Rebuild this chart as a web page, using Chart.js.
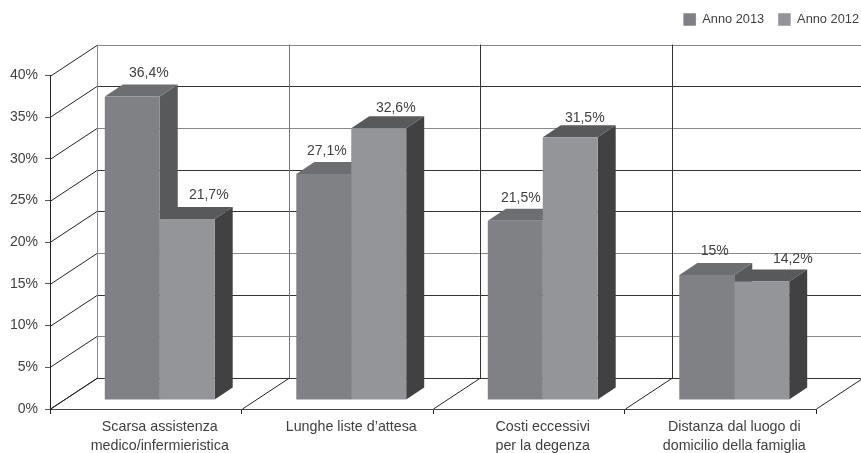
<!DOCTYPE html>
<html>
<head>
<meta charset="utf-8">
<style>
  html, body { margin: 0; padding: 0; background: #fff; }
  #wrap { width: 861px; height: 453px; }
</style>
<script src="https://cdn.jsdelivr.net/npm/chart.js@4"></script>
</head>
<body>
<div id="wrap"><canvas id="c"></canvas></div>
<script>
const categories = [
  ['Scarsa assistenza', 'medico/infermieristica'],
  'Lunghe liste d\u2019attesa',
  ['Costi eccessivi', 'per la degenza'],
  ['Distanza dal luogo di', 'domicilio della famiglia']
];
const anno2013 = [36.4, 27.1, 21.5, 15];
const anno2012 = [21.7, 32.6, 31.5, 14.2];

// Box shading, one entry per series
const frontColors = ['#808184', '#939598'];
const topColors = ['#6d6e71', '#58595b'];
const sideColors = ['#58595b', '#414042'];

// Hand placement of the value labels relative to each bar's front top centre
const labelShift = [
  [[16.5, -23], [3, -23], [5.5, -23], [8, -24]],
  [[21.5, -24], [17, -20], [14.5, -19], [31, -22]]
];

// Back wall lines alternate between two printed weights, from 0% upwards
const gridShades = ['#333', '#888', '#333', '#888', '#333', '#333', '#888', '#333', '#888'];
const wallShades = ['#888', '#777', '#333', '#333', '#888'];

const FONT = '"Liberation Sans", Arial, sans-serif';
const TEXT = '#3f3f41';
const WALL = { dx: 47, dy: -31 };   // depth of the box the chart stands in
const BAR_SHIFT = { dx: 14, dy: -9 }; // bars stand on the floor, behind the front edge
const BAR_DEPTH = { dx: 18, dy: -12 };

function line(ctx, x1, y1, x2, y2, color, width) {
  ctx.strokeStyle = color;
  ctx.lineWidth = width;
  ctx.beginPath();
  ctx.moveTo(x1, y1);
  ctx.lineTo(x2, y2);
  ctx.stroke();
}

function poly(ctx, pts, color) {
  ctx.fillStyle = color;
  ctx.beginPath();
  pts.forEach((p, i) => i ? ctx.lineTo(p[0], p[1]) : ctx.moveTo(p[0], p[1]));
  ctx.closePath();
  ctx.fill();
}

const box3d = {
  id: 'box3d',
  beforeInit(chart) {
    // Keep a fixed band above the plot for the legend
    const fit = chart.legend.fit;
    chart.legend.fit = function () {
      fit.call(this);
      this.height = 75.5;
    };
  },
  afterLayout(chart) {
    // The legend sits at the far right, past the plot's front edge
    chart.legend.right = chart.width + 12;
    chart.legend.top = -1;
  },
  beforeDatasetsDraw(chart) {
    const { ctx, scales: { x, y }, chartArea: area } = chart;
    ctx.save();

    // Back wall and left wall, following the value ticks
    y.ticks.forEach((t, i) => {
      const py = Math.round(y.getPixelForValue(t.value)) + 0.5;
      const c = gridShades[i % gridShades.length];
      line(ctx, area.left + WALL.dx, py + WALL.dy, area.right + WALL.dx, py + WALL.dy, c, 1);
      line(ctx, area.left, py, area.left + WALL.dx, py + WALL.dy, '#222', 1);
    });

    // Vertical wall lines and floor diagonals at the category boundaries
    const half = (x.getPixelForValue(1) - x.getPixelForValue(0)) / 2;
    const boundaries = categories.map((_, i) => x.getPixelForValue(i) - half);
    boundaries.push(area.right);
    boundaries.forEach((bx, i) => {
      const px = Math.round(bx) + 0.5;
      line(ctx, px + WALL.dx, area.top + WALL.dy, px + WALL.dx, area.bottom + WALL.dy, wallShades[i], 1);
      line(ctx, px, area.bottom, px + WALL.dx, area.bottom + WALL.dy, '#222', 1);
    });

    // Top and side faces go down first, the library then paints the fronts over them
    [0, 1].forEach((d) => {
      chart.getDatasetMeta(d).data.forEach((bar) => {
        const l = bar.x - bar.width / 2 + BAR_SHIFT.dx;
        const r = bar.x + bar.width / 2 + BAR_SHIFT.dx;
        const t = bar.y + BAR_SHIFT.dy;
        const b = bar.base + BAR_SHIFT.dy;
        poly(ctx, [[r, t], [r + BAR_DEPTH.dx, t + BAR_DEPTH.dy], [r + BAR_DEPTH.dx, b + BAR_DEPTH.dy], [r, b]], sideColors[d]);
        poly(ctx, [[l, t], [l + BAR_DEPTH.dx, t + BAR_DEPTH.dy], [r + BAR_DEPTH.dx, t + BAR_DEPTH.dy], [r, t]], topColors[d]);
      });
    });
    ctx.restore();

    ctx.save();
    ctx.translate(BAR_SHIFT.dx, BAR_SHIFT.dy);
  },
  afterDatasetsDraw(chart) {
    const { ctx } = chart;
    ctx.restore();

    // Value labels with the decimal comma
    ctx.save();
    ctx.font = '14px ' + FONT;
    ctx.fillStyle = TEXT;
    ctx.textAlign = 'center';
    ctx.textBaseline = 'middle';
    [0, 1].forEach((d) => {
      const values = chart.data.datasets[d].data;
      chart.getDatasetMeta(d).data.forEach((bar, i) => {
        const s = labelShift[d][i];
        const text = String(values[i]).replace('.', ',') + '%';
        ctx.fillText(text, bar.x + BAR_SHIFT.dx + s[0], bar.y + BAR_SHIFT.dy + s[1]);
      });
    });
    ctx.restore();
  }
};

new Chart(document.getElementById('c'), {
  type: 'bar',
  data: {
    labels: categories,
    datasets: [
      { label: 'Anno 2013', data: anno2013, backgroundColor: frontColors[0], clip: false },
      { label: 'Anno 2012', data: anno2012, backgroundColor: frontColors[1], clip: false }
    ]
  },
  plugins: [box3d],
  options: {
    responsive: true,
    maintainAspectRatio: false,
    animation: false,
    layout: { padding: { top: 0, right: 45, bottom: 0, left: 0 } },
    datasets: { bar: { categoryPercentage: 0.574, barPercentage: 1 } },
    plugins: {
      tooltip: { enabled: false },
      legend: {
        position: 'top',
        align: 'end',
        labels: {
          boxWidth: 12.5,
          boxHeight: 12.5,
          padding: 14,
          color: TEXT,
          font: { family: FONT, size: 12.8 }
        }
      }
    },
    scales: {
      x: {
        afterFit(s) { s.height = 44; },
        border: { color: '#444', width: 1 },
        grid: { offset: true, drawOnChartArea: false, drawTicks: true, tickLength: 5, color: '#222' },
        ticks: {
          labelOffset: 14,
          padding: 4,
          maxRotation: 0,
          autoSkip: false,
          color: TEXT,
          font: { family: FONT, size: 14.3, lineHeight: 1.3 }
        }
      },
      y: {
        min: 0,
        max: 40,
        afterFit(s) { s.width = 50; },
        border: { color: '#222', width: 1 },
        grid: { drawOnChartArea: false, tickLength: 5, color: '#555' },
        ticks: {
          stepSize: 5,
          padding: 7,
          color: TEXT,
          font: { family: FONT, size: 14 },
          callback: (v) => v + '%'
        }
      }
    }
  }
});
</script>
</body>
</html>
